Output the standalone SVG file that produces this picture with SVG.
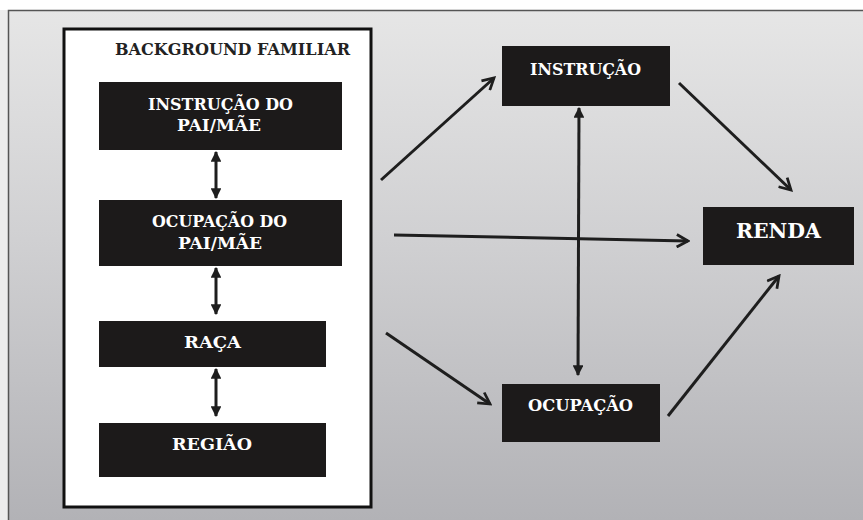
<svg xmlns="http://www.w3.org/2000/svg" width="863" height="520" viewBox="0 0 863 520">
<defs>
<linearGradient id="bg" x1="0" y1="0" x2="0" y2="1">
<stop offset="0" stop-color="#e6e6e6"/>
<stop offset="0.45" stop-color="#d0d0d2"/>
<stop offset="1" stop-color="#b2b2b6"/>
</linearGradient>
<marker id="open" viewBox="0 0 12 12" refX="10" refY="6" markerWidth="5" markerHeight="5" markerUnits="strokeWidth" orient="auto">
<path d="M1,1 L10,6 L1,11" fill="none" stroke="#1e1e1e" stroke-width="2.2" stroke-linejoin="miter"/>
</marker>
<marker id="tri" viewBox="0 0 10 10" refX="9" refY="5" markerWidth="3.6" markerHeight="3.6" markerUnits="strokeWidth" orient="auto-start-reverse">
<path d="M0,0 L10,5 L0,10 Z" fill="#1e1e1e"/>
</marker>
</defs>
<style>
.box{fill:#1c1a1a;}
.lbl{font-family:"DejaVu Serif","Liberation Serif",serif;font-weight:bold;fill:#ffffff;text-anchor:middle;font-size:16px;}
.title{font-family:"DejaVu Serif","Liberation Serif",serif;font-weight:bold;fill:#222;text-anchor:middle;font-size:16px;}
.ln{stroke:#1e1e1e;stroke-width:3;fill:none;}
</style>
<rect x="0" y="0" width="863" height="520" fill="#ffffff"/>
<rect x="0" y="10" width="8" height="510" fill="#ececec"/>
<rect x="8" y="10" width="855" height="510" fill="url(#bg)"/>
<path d="M8.5,520 V10.5 H863" fill="none" stroke="#555" stroke-width="1.5"/>
<g id="background-familiar">
<rect x="64" y="29" width="307" height="478" fill="#ffffff" stroke="#111" stroke-width="3"/>
<text class="title" x="232.5" y="55" textLength="235" lengthAdjust="spacingAndGlyphs">BACKGROUND FAMILIAR</text>
</g>
<g id="instrucao-pai">
<rect class="box" x="99" y="82" width="243" height="68"/>
<text class="lbl" x="220.5" y="110" textLength="145" lengthAdjust="spacingAndGlyphs">INSTRUÇÃO DO</text>
<text class="lbl" x="219" y="131" textLength="84" lengthAdjust="spacingAndGlyphs">PAI/MÃE</text>
</g>
<g id="ocupacao-pai">
<rect class="box" x="99" y="200" width="243" height="66"/>
<text class="lbl" x="219.5" y="227" textLength="135" lengthAdjust="spacingAndGlyphs">OCUPAÇÃO DO</text>
<text class="lbl" x="220" y="249" textLength="84" lengthAdjust="spacingAndGlyphs">PAI/MÃE</text>
</g>
<g id="raca">
<rect class="box" x="99" y="321" width="227" height="46"/>
<text class="lbl" x="212.5" y="348" textLength="57" lengthAdjust="spacingAndGlyphs">RAÇA</text>
</g>
<g id="regiao">
<rect class="box" x="99" y="423" width="227" height="54"/>
<text class="lbl" x="212" y="450" textLength="80" lengthAdjust="spacingAndGlyphs">REGIÃO</text>
</g>
<g id="instrucao">
<rect class="box" x="502" y="46" width="168" height="60"/>
<text class="lbl" x="585.5" y="75" textLength="111" lengthAdjust="spacingAndGlyphs">INSTRUÇÃO</text>
</g>
<g id="renda">
<rect class="box" x="703" y="207" width="151" height="58"/>
<text class="lbl" x="778.5" y="238" style="font-size:21px" textLength="85" lengthAdjust="spacingAndGlyphs">RENDA</text>
</g>
<g id="ocupacao">
<rect class="box" x="502" y="384" width="158" height="58"/>
<text class="lbl" x="580.5" y="411" textLength="105" lengthAdjust="spacingAndGlyphs">OCUPAÇÃO</text>
</g>
<g id="connectors">
<line class="ln" x1="216" y1="152" x2="216" y2="198" marker-start="url(#tri)" marker-end="url(#tri)"/>
<line class="ln" x1="216" y1="268" x2="216" y2="314" marker-start="url(#tri)" marker-end="url(#tri)"/>
<line class="ln" x1="216" y1="369" x2="216" y2="416" marker-start="url(#tri)" marker-end="url(#tri)"/>
<line class="ln" x1="579" y1="108" x2="578" y2="375" marker-start="url(#tri)" marker-end="url(#tri)"/>
<line class="ln" x1="381" y1="180" x2="494" y2="78" marker-end="url(#open)"/>
<line class="ln" x1="394" y1="235" x2="688" y2="241" marker-end="url(#open)"/>
<line class="ln" x1="386" y1="333" x2="490" y2="404" marker-end="url(#open)"/>
<line class="ln" x1="679" y1="83" x2="791" y2="190" marker-end="url(#open)"/>
<line class="ln" x1="668" y1="416" x2="779" y2="276" marker-end="url(#open)"/>
</g>
</svg>
